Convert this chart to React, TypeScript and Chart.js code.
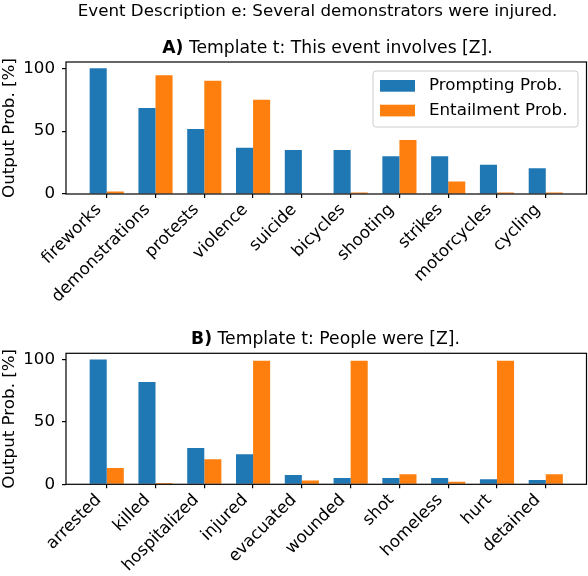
import React, { useEffect, useRef } from 'react';
import { Chart, registerables } from 'chart.js';

Chart.register(...registerables);

const FONT = 'DejaVu Sans';
const FS = 16.7;
const TFS = 17.2;
const BLUE = '#1f77b4';
const ORANGE = '#ff7f0e';

const suptitle = 'Event Description e: Several demonstrators were injured.';
const seriesNames = ['Prompting Prob.', 'Entailment Prob.'];
const yTicks = [0, 50, 100];
const yLabel = 'Output Prob. [%]';

const titleA = ['A)', ' Template t: This event involves [Z].'];
const catsA = ['fireworks', 'demonstrations', 'protests', 'violence', 'suicide', 'bicycles', 'shooting', 'strikes', 'motorcycles', 'cycling'];
const promptA = [100, 68.5, 51.7, 36.7, 35, 35, 30, 30, 23.3, 20.4];
const entailA = [2, 94.4, 90, 75, 0, 1.2, 43, 10, 1.2, 1.2];

const titleB = ['B)', ' Template t: People were [Z].'];
const catsB = ['arrested', 'killed', 'hospitalized', 'injured', 'evacuated', 'wounded', 'shot', 'homeless', 'hurt', 'detained'];
const promptB = [100, 82, 29, 24, 7.5, 5, 5, 5, 4, 3.5];
const entailB = [13, 1, 20, 99, 3, 99, 8, 2, 99, 8];

type PanelOpts = {
  cats: string[];
  prompt: number[];
  entail: number[];
  title: string[];
  titleX: number;
  titleY: number;
  padTop: number;
  xAxisH: number;
  showSuper: boolean;
  showLegend: boolean;
};

const decorPlugin = {
  id: 'decor',
  afterDraw(chart: any, _args: any, o: any) {
    const ctx = chart.ctx;
    const a = chart.chartArea;
    ctx.save();
    // frame
    ctx.strokeStyle = '#000';
    ctx.lineWidth = 1.2;
    ctx.strokeRect(a.left, a.top, a.right - a.left, a.bottom - a.top);
    ctx.fillStyle = '#000';
    ctx.textBaseline = 'alphabetic';
    if (o.showSuper) {
      ctx.font = `${FS}px "${FONT}"`;
      ctx.textAlign = 'center';
      ctx.fillText(suptitle, 317.5, 15.5);
    }
    // subplot title with bold prefix
    ctx.textAlign = 'left';
    ctx.font = `bold ${TFS}px "${FONT}"`;
    const w1 = ctx.measureText(o.title[0]).width;
    ctx.font = `${TFS}px "${FONT}"`;
    const w2 = ctx.measureText(o.title[1]).width;
    const x0 = o.titleX - (w1 + w2) / 2;
    ctx.font = `bold ${TFS}px "${FONT}"`;
    ctx.fillText(o.title[0], x0, o.titleY);
    ctx.font = `${TFS}px "${FONT}"`;
    ctx.fillText(o.title[1], x0 + w1, o.titleY);
    if (o.showLegend) {
      const lx = 373, ly = 71, lw = 205, lh = 56, r = 3;
      ctx.beginPath();
      ctx.moveTo(lx + r, ly);
      ctx.arcTo(lx + lw, ly, lx + lw, ly + lh, r);
      ctx.arcTo(lx + lw, ly + lh, lx, ly + lh, r);
      ctx.arcTo(lx, ly + lh, lx, ly, r);
      ctx.arcTo(lx, ly, lx + lw, ly, r);
      ctx.closePath();
      ctx.fillStyle = 'rgba(255,255,255,0.8)';
      ctx.fill();
      ctx.strokeStyle = '#cccccc';
      ctx.lineWidth = 1;
      ctx.stroke();
      chart.data.datasets.forEach((ds: any, i: number) => {
        const cy = 86 + i * 24.7;
        ctx.fillStyle = ds.backgroundColor;
        ctx.fillRect(380, cy - 6, 35, 11.7);
        ctx.fillStyle = '#000';
        ctx.textBaseline = 'middle';
        ctx.font = `${FS}px "${FONT}"`;
        ctx.fillText(ds.label, 429, cy);
      });
    }
    ctx.restore();
  },
};

function Panel(props: PanelOpts & { top: number; height: number }) {
  const ref = useRef<HTMLCanvasElement>(null);
  useEffect(() => {
    if (!ref.current) return;
    const { cats, prompt, entail } = props;
    const chart = new Chart(ref.current, {
      type: 'bar',
      data: {
        datasets: [
          {
            label: seriesNames[0],
            data: prompt.map((v, i) => ({ x: i, y: v })),
            backgroundColor: BLUE,
            borderWidth: 0,
          },
          {
            label: seriesNames[1],
            data: entail.map((v, i) => ({ x: i, y: v })),
            backgroundColor: ORANGE,
            borderWidth: 0,
          },
        ],
      },
      options: {
        responsive: false,
        animation: false,
        layout: { padding: { top: props.padTop, left: 0, right: 1.5, bottom: 0 } },
        datasets: { bar: { categoryPercentage: 0.7, barPercentage: 1.0 } },
        plugins: {
          legend: { display: false },
          tooltip: { enabled: false },
          title: { display: false },
          decor: {
            title: props.title,
            titleX: props.titleX,
            titleY: props.titleY,
            showSuper: props.showSuper,
            showLegend: props.showLegend,
          },
        } as any,
        scales: {
          x: {
            type: 'linear',
            min: -0.835,
            max: cats.length - 1 + 0.835,
            offset: false,
            afterBuildTicks: (s: any) => {
              s.ticks = cats.map((_, i) => ({ value: i }));
            },
            afterFit: (s: any) => {
              s.height = props.xAxisH;
            },
            grid: {
              offset: false,
              drawOnChartArea: false,
              drawTicks: true,
              tickLength: 4,
              color: '#000',
              lineWidth: 1.2,
            },
            border: { display: false },
            ticks: {
              autoSkip: false,
              maxRotation: 45,
              minRotation: 45,
              padding: 2,
              labelOffset: -8,
              color: '#000',
              font: { family: FONT, size: FS },
              callback: (v: any) => cats[v] ?? '',
            },
          },
          y: {
            min: 0,
            max: 105,
            afterBuildTicks: (s: any) => {
              s.ticks = yTicks.map((v) => ({ value: v }));
            },
            afterFit: (s: any) => {
              s.width = 66;
            },
            grid: {
              drawOnChartArea: false,
              drawTicks: true,
              tickLength: 4,
              color: '#000',
              lineWidth: 1.2,
            },
            border: { display: false },
            ticks: {
              padding: 7,
              color: '#000',
              font: { family: FONT, size: FS },
            },
            title: {
              display: true,
              text: yLabel,
              color: '#000',
              padding: { top: 0, bottom: 0 },
              font: { family: FONT, size: FS, lineHeight: 1.1 },
            },
          },
        },
      },
      plugins: [decorPlugin],
    });
    return () => chart.destroy();
  }, []);
  return (
    <canvas
      ref={ref}
      width={588}
      height={props.height}
      style={{ position: 'absolute', left: 0, top: props.top, width: 588, height: props.height }}
    />
  );
}

export default function App() {
  return (
    <div style={{ position: 'absolute', left: 0, top: 0, width: 588, height: 576, background: '#fff', overflow: 'hidden' }}>
      <Panel
        top={0}
        height={325}
        cats={catsA}
        prompt={promptA}
        entail={entailA}
        title={titleA}
        titleX={327.5}
        titleY={53}
        padTop={62}
        xAxisH={131}
        showSuper={true}
        showLegend={true}
      />
      <Panel
        top={300}
        height={276}
        cats={catsB}
        prompt={promptB}
        entail={entailB}
        title={titleB}
        titleX={325.5}
        titleY={44}
        padTop={53.3}
        xAxisH={91.7}
        showSuper={false}
        showLegend={false}
      />
    </div>
  );
}
